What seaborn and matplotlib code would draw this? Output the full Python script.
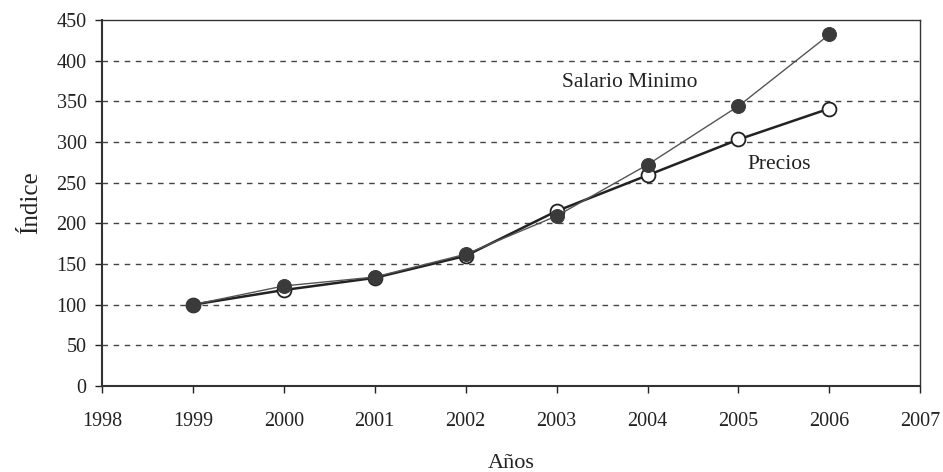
import matplotlib
matplotlib.use("Agg")
import matplotlib.pyplot as plt
import seaborn as sns
import pandas as pd

years = [1999, 2000, 2001, 2002, 2003, 2004, 2005, 2006]
salario_minimo = [100, 123, 134, 162, 209, 272, 344, 432]
precios = [100, 118, 133, 160, 215, 259, 303, 341]
x_ticks = [1998, 1999, 2000, 2001, 2002, 2003, 2004, 2005, 2006, 2007]
y_ticks = [0, 50, 100, 150, 200, 250, 300, 350, 400, 450]

sns.set_theme(style="white")
plt.rcParams['font.family'] = ['Liberation Serif', 'DejaVu Serif']

df_s = pd.DataFrame({"Año": years, "Índice": salario_minimo})
df_p = pd.DataFrame({"Año": years, "Índice": precios})

fig = plt.figure(figsize=(9.43, 4.72), dpi=100)
ax = fig.add_axes([0.108, 0.182, 0.868, 0.776])

sns.lineplot(data=df_p, x="Año", y="Índice", ax=ax, color="#222222", linewidth=1.8,
             marker="o", markersize=10, markerfacecolor="white",
             markeredgecolor="#222222", markeredgewidth=1.3, zorder=3)
sns.lineplot(data=df_s, x="Año", y="Índice", ax=ax, color="#555555", linewidth=1.0,
             marker="o", markersize=10, markerfacecolor="#3a3a3a",
             markeredgecolor="#3a3a3a", zorder=4)

ax.set_xlim(1998, 2007)
ax.set_ylim(0, 450)
ax.set_xticks(x_ticks)
ax.set_yticks(y_ticks)
ax.tick_params(axis="both", labelsize=14.5, colors="#222222", length=5, width=1,
               direction="out", left=True, bottom=True)
ax.tick_params(axis="x", pad=14)
ax.tick_params(axis="y", pad=6)
for y in y_ticks[1:-1]:
    ax.axhline(y, color="#444444", linestyle=(0, (4, 4)), linewidth=1.0, zorder=1)

for s in ax.spines.values():
    s.set_color("#333333")
    s.set_linewidth(1.0)
ax.spines["left"].set_linewidth(1.5)
ax.spines["bottom"].set_linewidth(1.5)

ax.set_xlabel("Años", fontsize=16, labelpad=16, color="#222222")
ax.set_ylabel("Índice", fontsize=18, labelpad=10, color="#222222")

ax.text(2003.8, 373, "Salario Minimo", fontsize=15.5, color="#222222", ha="center", va="center")
ax.text(2005.45, 272, "Precios", fontsize=15.5, color="#222222", ha="center", va="center")

fig.savefig("out.png", dpi=100)
